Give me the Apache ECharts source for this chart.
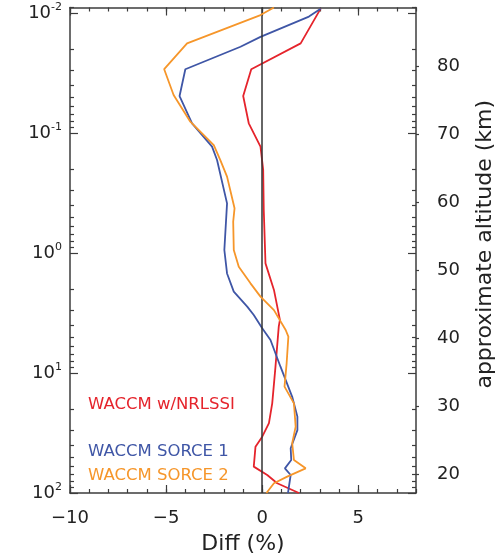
<!DOCTYPE html>
<html>
<head>
<meta charset="utf-8">
<script src="https://cdn.jsdelivr.net/npm/echarts@6/dist/echarts.min.js"></script>
<style>
  html, body { margin: 0; padding: 0; background: #fff; }
  #chart { width: 502px; height: 559px; }
</style>
</head>
<body>
<div id="chart"></div>
<script>
// Pressure levels (hPa) and ozone differences (%) for each run
const nrlssiPressure = [0.0092, 0.0179, 0.0294, 0.0492, 0.0830, 0.130, 0.203, 0.438, 1.22, 2.03, 3.61, 4.11, 8.86, 17.9, 26.2, 33.9, 41.1, 60.3, 70.8, 83.0, 100];
const nrlssiDiff     = [3.04, 2.00, -0.57, -0.99, -0.70, -0.09, 0.05, 0.08, 0.17, 0.61, 0.92, 0.86, 0.69, 0.52, 0.35, 0.0, -0.35, -0.44, 0.26, 0.78, 1.91];

const sorce1Pressure = [0.0092, 0.0107, 0.0158, 0.0191, 0.0294, 0.0492, 0.0830, 0.130, 0.168, 0.386, 0.944, 1.48, 2.10, 2.80, 3.29, 4.24, 5.31, 8.86, 15.8, 23.1, 29.9, 42.4, 53.1, 62.3, 70.8, 100];
const sorce1Diff     = [3.04, 2.43, -0.09, -1.13, -4.00, -4.30, -3.65, -2.61, -2.35, -1.83, -1.97, -1.83, -1.48, -0.78, -0.44, 0.0, 0.43, 0.95, 1.56, 1.83, 1.83, 1.48, 1.51, 1.18, 1.48, 1.34];

const sorce2Pressure = [0.0090, 0.0104, 0.0179, 0.0294, 0.0482, 0.0805, 0.126, 0.168, 0.231, 0.424, 0.548, 0.944, 1.30, 1.79, 2.31, 2.99, 4.38, 4.98, 8.30, 13.0, 17.9, 28.0, 38.5, 53.1, 62.3, 73.1, 83.0, 100];
const sorce2Diff     = [0.61, -0.09, -3.91, -5.10, -4.61, -3.74, -2.52, -2.18, -1.83, -1.44, -1.51, -1.48, -1.22, -0.61, -0.09, 0.61, 1.22, 1.36, 1.27, 1.16, 1.65, 1.74, 1.56, 1.65, 2.26, 1.30, 0.61, 0.22];

const seriesNames = ['WACCM w/NRLSSI', 'WACCM SORCE 1', 'WACCM SORCE 2'];
const seriesColors = ['#e5242c', '#3f56a6', '#f6962a'];

// Axis ticks
const diffMajorTicks = [-10, -5, 0, 5];
const pressureDecades = [-2, -1, 0, 1, 2];          // log10(hPa)
const altitudeTicks = [20, 30, 40, 50, 60, 70, 80];  // km

const FONT = 'DejaVu Sans';
const INK = '#222';
const FRAME = '#3c3c3c';

const logMin = -2.046, logMax = 2;
const altMin = 17.2, altMax = 88.6;

// Minor log ticks (2..9 within each decade)
const pressureMinor = [];
for (let n = -3; n <= 1; n++) {
  for (let k = 2; k <= 9; k++) {
    const v = Math.log10(k * Math.pow(10, n));
    if (v > logMin && v < logMax) pressureMinor.push(v);
  }
}

function toPoints(pressure, diff) {
  return pressure.map((p, i) => [diff[i], Math.log10(p)]);
}

const minus = v => String(v).replace('-', '\u2212');

const chart = echarts.init(document.getElementById('chart'), null, { renderer: 'canvas' });

// Three overlapping grids share one plot rectangle so that every side
// can carry more than one set of ticks.
const rect = { left: 70, right: 86, top: 7.5, bottom: 66, outerBoundsMode: 'none', containLabel: false };
const grids = [Object.assign({}, rect), Object.assign({}, rect), Object.assign({}, rect)];

const tickStyle = { color: FRAME, width: 1.2 };
const frameLine = { show: true, onZero: false, lineStyle: { color: FRAME, width: 1.5 } };
const noLine = { show: false, onZero: false };

function xAx(gridIndex, pos, extra) {
  return Object.assign({
    gridIndex, type: 'value', position: pos, min: -10, max: 8, interval: 1,
    axisLine: noLine, splitLine: { show: false },
    axisLabel: { show: false }, axisTick: { show: false }
  }, extra);
}

function yLog(gridIndex, pos, extra) {
  return Object.assign({
    gridIndex, type: 'value', position: pos, inverse: true, min: logMin, max: logMax, interval: 1,
    axisLine: noLine, splitLine: { show: false },
    axisLabel: { show: false }, axisTick: { show: false }
  }, extra);
}

const option = {
  animation: false,
  backgroundColor: '#fff',
  grid: grids,
  xAxis: [
    // grid 0: frame, minor diff ticks and labels
    xAx(0, 'bottom', {
      axisLine: frameLine,
      axisTick: { show: true, inside: true, length: 4, lineStyle: tickStyle },
      axisLabel: {
        show: true, customValues: diffMajorTicks, margin: 16,
        fontFamily: FONT, fontSize: 18, color: INK,
        formatter: v => minus(v)
      },
      name: 'Diff (%)', nameLocation: 'middle', nameGap: 40,
      nameTextStyle: { fontFamily: FONT, fontSize: 22, color: INK }
    }),
    xAx(0, 'top', {
      axisLine: frameLine,
      axisTick: { show: true, inside: true, length: 4, lineStyle: tickStyle }
    }),
    // grid 1: major diff ticks
    xAx(1, 'bottom', {
      axisTick: { show: true, inside: true, length: 8, customValues: diffMajorTicks, lineStyle: tickStyle }
    }),
    xAx(1, 'top', {
      axisTick: { show: true, inside: true, length: 8, customValues: diffMajorTicks, lineStyle: tickStyle }
    }),
    // grid 2: placeholder for the altitude scale
    xAx(2, 'bottom', {})
  ],
  yAxis: [
    // grid 0: frame, pressure decades with labels
    yLog(0, 'left', {
      axisLine: frameLine,
      axisTick: { show: true, inside: true, length: 8, customValues: pressureDecades, lineStyle: tickStyle },
      axisLabel: {
        show: true, customValues: pressureDecades, margin: 8,
        formatter: v => '{b|10}{s|' + Math.round(v) + '}',
        rich: {
          b: { fontFamily: FONT, fontSize: 18, color: INK, lineHeight: 22 },
          s: { fontFamily: FONT, fontSize: 11, color: INK, lineHeight: 12, verticalAlign: 'top' }
        }
      }
    }),
    yLog(0, 'right', {
      axisLine: frameLine,
      axisTick: { show: true, inside: true, length: 8, customValues: pressureDecades, lineStyle: tickStyle }
    }),
    // grid 1: minor pressure ticks
    yLog(1, 'left', {
      axisTick: { show: true, inside: true, length: 4, customValues: pressureMinor, lineStyle: tickStyle }
    }),
    yLog(1, 'right', {
      axisTick: { show: true, inside: true, length: 4, customValues: pressureMinor, lineStyle: tickStyle }
    }),
    // grid 2: approximate altitude
    {
      gridIndex: 2, type: 'value', position: 'right', min: altMin, max: altMax,
      axisLine: noLine,
      splitLine: { show: false },
      axisTick: { show: true, inside: false, length: 3, customValues: altitudeTicks, lineStyle: tickStyle },
      axisLabel: {
        show: true, customValues: altitudeTicks, margin: 21,
        fontFamily: FONT, fontSize: 18, color: INK
      },
      name: 'approximate altitude (km)', nameLocation: 'middle', nameGap: 58, nameRotate: 90,
      nameTextStyle: { fontFamily: FONT, fontSize: 22, color: INK, padding: [0, 0, 0, 12] }
    }
  ],
  series: [
    {
      name: seriesNames[0], type: 'line', xAxisIndex: 0, yAxisIndex: 0,
      data: toPoints(nrlssiPressure, nrlssiDiff),
      showSymbol: false, clip: true,
      lineStyle: { color: seriesColors[0], width: 1.8 },
      markLine: {
        silent: true, symbol: 'none', label: { show: false },
        lineStyle: { color: '#333', width: 1.5, type: 'solid' },
        data: [{ xAxis: 0 }]
      },
      z: 3
    },
    {
      name: seriesNames[1], type: 'line', xAxisIndex: 0, yAxisIndex: 0,
      data: toPoints(sorce1Pressure, sorce1Diff),
      showSymbol: false, clip: true,
      lineStyle: { color: seriesColors[1], width: 1.8 },
      z: 4
    },
    {
      name: seriesNames[2], type: 'line', xAxisIndex: 0, yAxisIndex: 0,
      data: toPoints(sorce2Pressure, sorce2Diff),
      showSymbol: false, clip: true,
      lineStyle: { color: seriesColors[2], width: 1.8 },
      z: 5
    }
  ],
  graphic: [
    { type: 'text', left: 88, top: 396, style: { text: seriesNames[0], fill: seriesColors[0], font: '16.5px "DejaVu Sans"' } },
    { type: 'text', left: 88, top: 443, style: { text: seriesNames[1], fill: seriesColors[1], font: '16.5px "DejaVu Sans"' } },
    { type: 'text', left: 88, top: 467, style: { text: seriesNames[2], fill: seriesColors[2], font: '16.5px "DejaVu Sans"' } }
  ]
};

chart.setOption(option);
</script>
</body>
</html>
